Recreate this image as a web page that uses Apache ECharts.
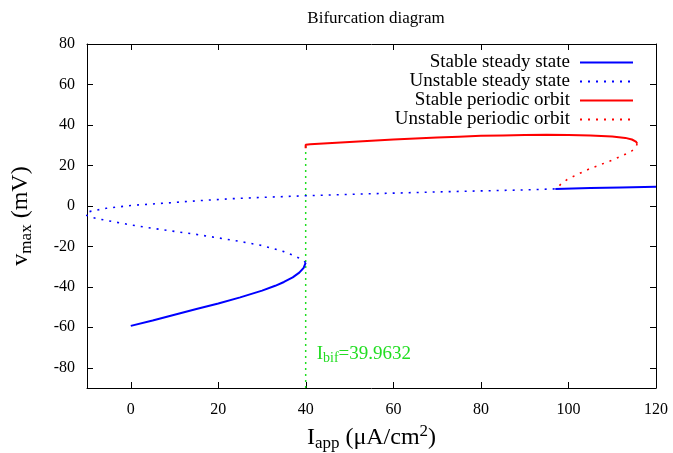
<!DOCTYPE html>
<html>
<head>
<meta charset="utf-8">
<script src="https://cdn.jsdelivr.net/npm/echarts@6/dist/echarts.min.js"></script>
<style>
html,body{margin:0;padding:0;background:#fff;}
#main{width:673px;height:453px;}
</style>
</head>
<body>
<div id="main"></div>
<script>
// ---- data ----
const xTicks = [0, 20, 40, 60, 80, 100, 120];
const yTicks = [-80, -60, -40, -20, 0, 20, 40, 60, 80];
const Ibif = 39.9632;

// Stable steady state, lower branch (up to the saddle-node near I=40)
const stableLower = [
  [0, -59.3], [5, -56.6], [10, -53.8], [15, -51.0], [20, -48.2], [25, -45.2],
  [30, -41.9], [33, -39.5], [35, -37.6], [37, -35.3], [38.5, -33.0],
  [39.5, -30.6], [39.96, -28.0]
];
// Stable steady state, upper branch (after the Hopf point)
const stableUpper = [[97, 8.4], [105, 8.8], [112, 9.1], [120, 9.5]];

// Unstable steady state (middle + upper branch, through the left fold)
const unstableSS = [
  [39.96, -28.0], [39.3, -26.8], [38, -25.3], [35, -22.6], [30, -19.6],
  [25, -17.6], [20, -15.8], [15, -14.1], [10, -12.6], [5, -11.1], [0, -9.4],
  [-4, -7.8], [-7, -6.6], [-9, -5.6], [-10.2, -4.6], [-10.4, -4.0],
  [-10.2, -3.3], [-9, -2.6], [-5.6, -1.2], [0, 0.2], [7.4, 1.3], [15, 2.5],
  [22.6, 3.5], [30, 4.2], [40, 5.0], [50, 5.7], [60, 6.3], [70, 6.9],
  [80, 7.4], [90, 7.9], [97, 8.4]
];

// Stable periodic orbit (max v)
const stablePO = [
  [39.96, 28.5], [39.96, 30.2], [41, 30.4], [45, 31.0], [50, 31.6], [55, 32.2],
  [60, 32.8], [65, 33.3], [70, 33.8], [75, 34.2], [80, 34.6], [85, 34.8],
  [90, 35.0], [95, 35.1], [100, 35.0], [105, 34.8], [110, 34.3], [113, 33.6],
  [114.5, 32.8], [115.4, 31.8], [115.7, 30.8]
];

// Unstable periodic orbit (max v)
const unstablePO = [
  [115.7, 30.8], [115.4, 29.0], [114.4, 27.0], [112.5, 25.0], [110.2, 22.8],
  [107.5, 20.5], [104.9, 18.4], [101.8, 15.3], [99.6, 12.9], [98.3, 10.8],
  [97.7, 9.5], [97, 8.4]
];

// Bifurcation marker line
const bifLine = [[Ibif, -90], [Ibif, 30.2]];

// ---- chart ----
const FONT = 'Liberation Serif';
const chart = echarts.init(document.getElementById('main'), null, {renderer: 'canvas'});

const axisCommon = {
  axisLine: {show: true, onZero: false, lineStyle: {color: '#000', width: 1}},
  splitLine: {show: false}
};

chart.setOption({
  animation: false,
  backgroundColor: '#fff',
  title: {
    text: 'Bifurcation diagram',
    left: 371, top: 5, textAlign: 'center',
    textStyle: {fontFamily: FONT, fontSize: 17, fontWeight: 'normal', color: '#000'}
  },
  grid: {left: 87, right: 17, top: 44, bottom: 65, outerBoundsMode: 'none', containLabel: false},
  legend: {
    orient: 'vertical',
    right: 34, top: 48,
    align: 'right',
    itemWidth: 53, itemHeight: 10, itemGap: 0,
    itemStyle: {opacity: 0},
    data: ['Stable steady state', 'Unstable steady state', 'Stable periodic orbit', 'Unstable periodic orbit'],
    formatter: '{t|{name}}',
    textStyle: {
      fontFamily: FONT, fontSize: 19, color: '#000', lineHeight: 19,
      rich: {t: {fontFamily: FONT, fontSize: 19, lineHeight: 19, color: '#000', width: 200, align: 'right', padding: [0, 5, 0, 0]}}
    }
  },
  xAxis: [{
    type: 'value', min: -10, max: 120, position: 'bottom',
    ...axisCommon,
    name: '{i|I}{s|app}{i| (μA/cm}{p|2}{i|)}',
    nameLocation: 'middle', nameGap: 30,
    nameTextStyle: {
      rich: {
        i: {fontFamily: FONT, fontSize: 24, color: '#000'},
        s: {fontFamily: FONT, fontSize: 17, color: '#000', padding: [12, 0, 0, 0]},
        p: {fontFamily: FONT, fontSize: 17, color: '#000', padding: [0, 0, 12, 0]}
      }
    },
    axisTick: {show: true, inside: true, length: 6, customValues: xTicks, lineStyle: {color: '#000'}},
    axisLabel: {customValues: xTicks, margin: 14, fontFamily: FONT, fontSize: 16, color: '#000'}
  }, {
    type: 'value', min: -10, max: 120, position: 'top',
    ...axisCommon,
    axisTick: {show: true, inside: true, length: 6, customValues: xTicks, lineStyle: {color: '#000'}},
    axisLabel: {show: false}
  }],
  yAxis: [{
    type: 'value', min: -90, max: 80, position: 'left',
    ...axisCommon,
    name: '{i|v}{s|max}{i| (mV)}',
    nameLocation: 'middle', nameGap: 52,
    nameTextStyle: {
      rich: {
        i: {fontFamily: FONT, fontSize: 24, color: '#000'},
        s: {fontFamily: FONT, fontSize: 17, color: '#000', padding: [12, 0, 0, 0]}
      }
    },
    axisTick: {show: true, inside: true, length: 6, customValues: yTicks, lineStyle: {color: '#000'}},
    axisLabel: {customValues: yTicks, margin: 12, fontFamily: FONT, fontSize: 16, color: '#000'}
  }, {
    type: 'value', min: -90, max: 80, position: 'right',
    ...axisCommon,
    axisTick: {show: true, inside: true, length: 6, customValues: yTicks, lineStyle: {color: '#000'}},
    axisLabel: {show: false}
  }],
  series: [
    {
      name: 'Stable steady state', type: 'line', data: stableLower,
      showSymbol: false, symbol: 'none', clip: true,
      lineStyle: {color: '#0000ff', width: 2}, itemStyle: {color: '#0000ff'}
    },
    {
      name: 'Unstable steady state', type: 'line', data: unstableSS,
      showSymbol: false, symbol: 'none', clip: true,
      lineStyle: {color: '#0000ff', width: 1.6, type: [2, 6]}, itemStyle: {color: '#0000ff'}
    },
    {
      name: 'Stable steady state', type: 'line', data: stableUpper,
      showSymbol: false, symbol: 'none', clip: true,
      lineStyle: {color: '#0000ff', width: 2}, itemStyle: {color: '#0000ff'}
    },
    {
      name: 'Stable periodic orbit', type: 'line', data: stablePO,
      showSymbol: false, symbol: 'none', clip: true,
      lineStyle: {color: '#ff0000', width: 2}, itemStyle: {color: '#ff0000'}
    },
    {
      name: 'Unstable periodic orbit', type: 'line', data: unstablePO,
      showSymbol: false, symbol: 'none', clip: true,
      lineStyle: {color: '#ff0000', width: 1.6, type: [2, 6]}, itemStyle: {color: '#ff0000'}
    },
    {
      name: 'Ibif', type: 'line', data: bifLine,
      showSymbol: false, symbol: 'none', clip: true, z: 1,
      lineStyle: {color: '#22dd22', width: 1.5, type: [2, 4]}, itemStyle: {color: '#22dd22'},
      markPoint: {
        symbol: 'circle', symbolSize: 0,
        data: [{coord: [Ibif, -73]}],
        label: {
          show: true, position: 'right', distance: 11,
          formatter: '{i|I}{s|bif}{i|=39.9632}',
          rich: {
            i: {fontFamily: FONT, fontSize: 19, color: '#22dd22'},
            s: {fontFamily: FONT, fontSize: 14, color: '#22dd22', padding: [9, 0, 0, 0]}
          }
        }
      }
    }
  ]
});
</script>
</body>
</html>
